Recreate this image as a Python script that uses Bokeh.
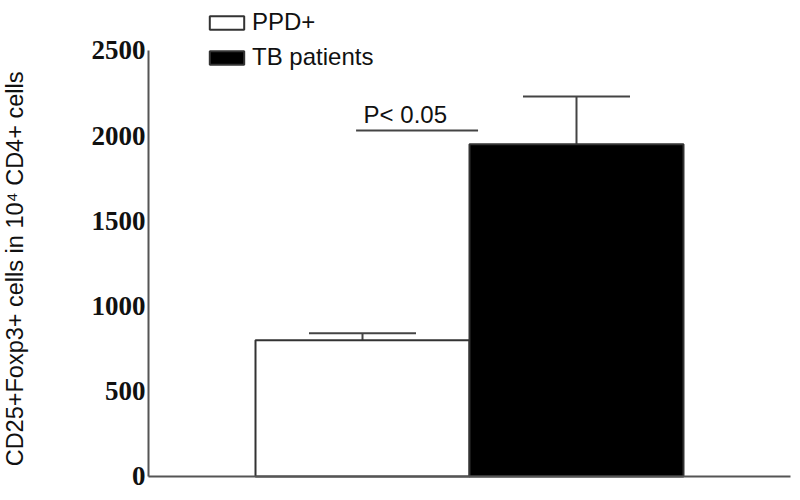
import math
from bokeh.plotting import figure
from bokeh.models import (ColumnDataSource, Range1d, FixedTicker, Whisker, TeeHead,
                          Legend, LegendItem, Label)
from bokeh.core.properties import value
from bokeh.embed import file_html
from bokeh.resources import INLINE

# ---- data ----
groups = ["PPD+", "TB patients"]
means = [800, 1950]
errors = [40, 280]
bar_colors = ["white", "black"]
y_ticks = [0, 500, 1000, 1500, 2000, 2500]
sig_line_x = [0.97, 1.54]
sig_line_y = [2030, 2030]
sig_text = ["P< 0.05"]
sig_text_x = [1.2]
sig_text_y = [2122]
y_label = "CD25+Foxp3+ cells in 10\u2074 CD4+ cells"

xs = [i + 1 for i in range(len(groups))]
x_axis_end = len(groups) + 1
src = ColumnDataSource(dict(
    x=xs, top=means, upper=[m + e for m, e in zip(means, errors)],
    lower=means, color=bar_colors, group=groups))

# the frame covers the whole canvas; axes are drawn at fixed data locations
p = figure(width=798, height=496, output_backend="svg", toolbar_location=None,
           x_range=Range1d(-0.6916, 3.0374), y_range=Range1d(-117.4, 2793.4),
           min_border=0)
p.outline_line_color = None
p.xgrid.visible = False
p.ygrid.visible = False

r_bars = p.vbar(x="x", top="top", bottom=0, width=1.0, source=src,
                fill_color="color", line_color="#333333", line_width=2)

w = Whisker(base="x", upper="upper", lower="lower", source=src,
            line_color="#444444", line_width=2,
            upper_head=TeeHead(size=107, line_color="#444444", line_width=2),
            lower_head=None)
p.add_layout(w)

# axis lines
p.segment(x0=[0, 0], y0=[0, 0], x1=[0, x_axis_end], y1=[y_ticks[-1], 0],
          line_color="#555555", line_width=2)

p.line(x=sig_line_x, y=sig_line_y, line_color="#444444", line_width=2)
p.text(x=sig_text_x, y=sig_text_y, text=sig_text, text_align="center",
       text_baseline="alphabetic", text_font=value("Liberation Sans"),
       text_font_size="24px", text_color="#111111")

# y axis at x = 0
p.yaxis.fixed_location = 0
p.yaxis.ticker = FixedTicker(ticks=y_ticks)
p.yaxis.major_tick_out = 0
p.yaxis.major_tick_in = 0
p.yaxis.minor_tick_out = 0
p.yaxis.minor_tick_in = 0
p.yaxis.major_label_standoff = 3
p.yaxis.major_label_text_font = "Liberation Serif"
p.yaxis.major_label_text_font_style = "bold"
p.yaxis.major_label_text_font_size = "27px"
p.yaxis.major_label_text_color = "#111111"
p.yaxis.axis_line_color = None

p.xaxis.visible = False

ylab = Label(x=-0.626, y=1218, text=y_label, angle=math.pi / 2,
             text_align="center", text_baseline="middle",
             text_font="Liberation Sans", text_font_size="23.5px",
             text_color="#111111")
p.add_layout(ylab)

legend = Legend(items=[LegendItem(label=groups[i], renderers=[r_bars], index=i)
                       for i in range(len(groups))],
                location=(205, 425), orientation="vertical",
                glyph_width=43, glyph_height=17, label_height=27,
                label_standoff=4, spacing=7, padding=0, margin=0,
                border_line_color=None, background_fill_alpha=0,
                label_text_font="Liberation Sans", label_text_font_size="24px",
                label_text_color="#111111")
p.add_layout(legend)

open("out.html", "w").write(file_html(p, INLINE))
